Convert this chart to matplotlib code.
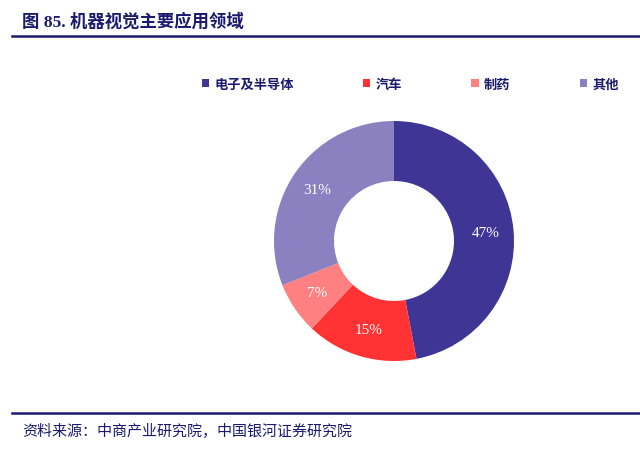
import matplotlib.pyplot as plt
from matplotlib.patches import Patch
from matplotlib.lines import Line2D

plt.rcParams['font.family'] = ['Noto Sans CJK SC', 'DejaVu Sans']

labels = ['电子及半导体', '汽车', '制药', '其他']
shares = [47, 15, 7, 31]
colors = ['#3f3594', '#ff3333', '#ff8080', '#8b80c0']
navy = '#1a1a6e'

fig = plt.figure(figsize=(6.4, 4.52), dpi=100)

# title and rules
fig.text(22 / 640, 1 - 22 / 452, '图 85. 机器视觉主要应用领域', fontsize=12.5, fontweight='bold',
         color=navy, va='center', ha='left', family=['Liberation Serif', 'Noto Sans CJK SC'])
fig.add_artist(Line2D([12 / 640, 1], [1 - 37 / 452] * 2, color=navy, lw=1.8))
fig.add_artist(Line2D([12 / 640, 1], [1 - 414 / 452] * 2, color=navy, lw=1.8))
fig.text(22 / 640, 1 - 432 / 452, '资料来源：中商产业研究院，中国银河证券研究院', fontsize=10.8,
         color=navy, va='center', ha='left', style='italic')

# donut
cx, cy, r = 394, 242, 120
ax = fig.add_axes([(cx - r) / 640, (452 - cy - r) / 452, 2 * r / 640, 2 * r / 452])
wedges, texts, autotexts = ax.pie(shares, colors=colors, startangle=90, counterclock=False,
                                  radius=1, autopct='%d%%', pctdistance=0.77,
                                  wedgeprops=dict(width=0.5, edgecolor='none'),
                                  textprops=dict(color='white', fontsize=11,
                                                 family=['Liberation Serif', 'DejaVu Serif']))
ax.set_xlim(-1, 1)
ax.set_ylim(-1, 1)
ax.set_aspect('equal')
ax.axis('off')

handles = [Patch(facecolor=c, edgecolor='none') for c in colors]
leg = fig.legend(handles, labels, ncol=4, loc='center left',
                 bbox_to_anchor=(190 / 640, 1 - 85 / 452), frameon=False,
                 handlelength=0.55, handleheight=0.55, handletextpad=0.4,
                 columnspacing=5.25, prop=dict(size=9.5, weight='bold'))
for t in leg.get_texts():
    t.set_color(navy)

fig.savefig('out.png', dpi=100)
